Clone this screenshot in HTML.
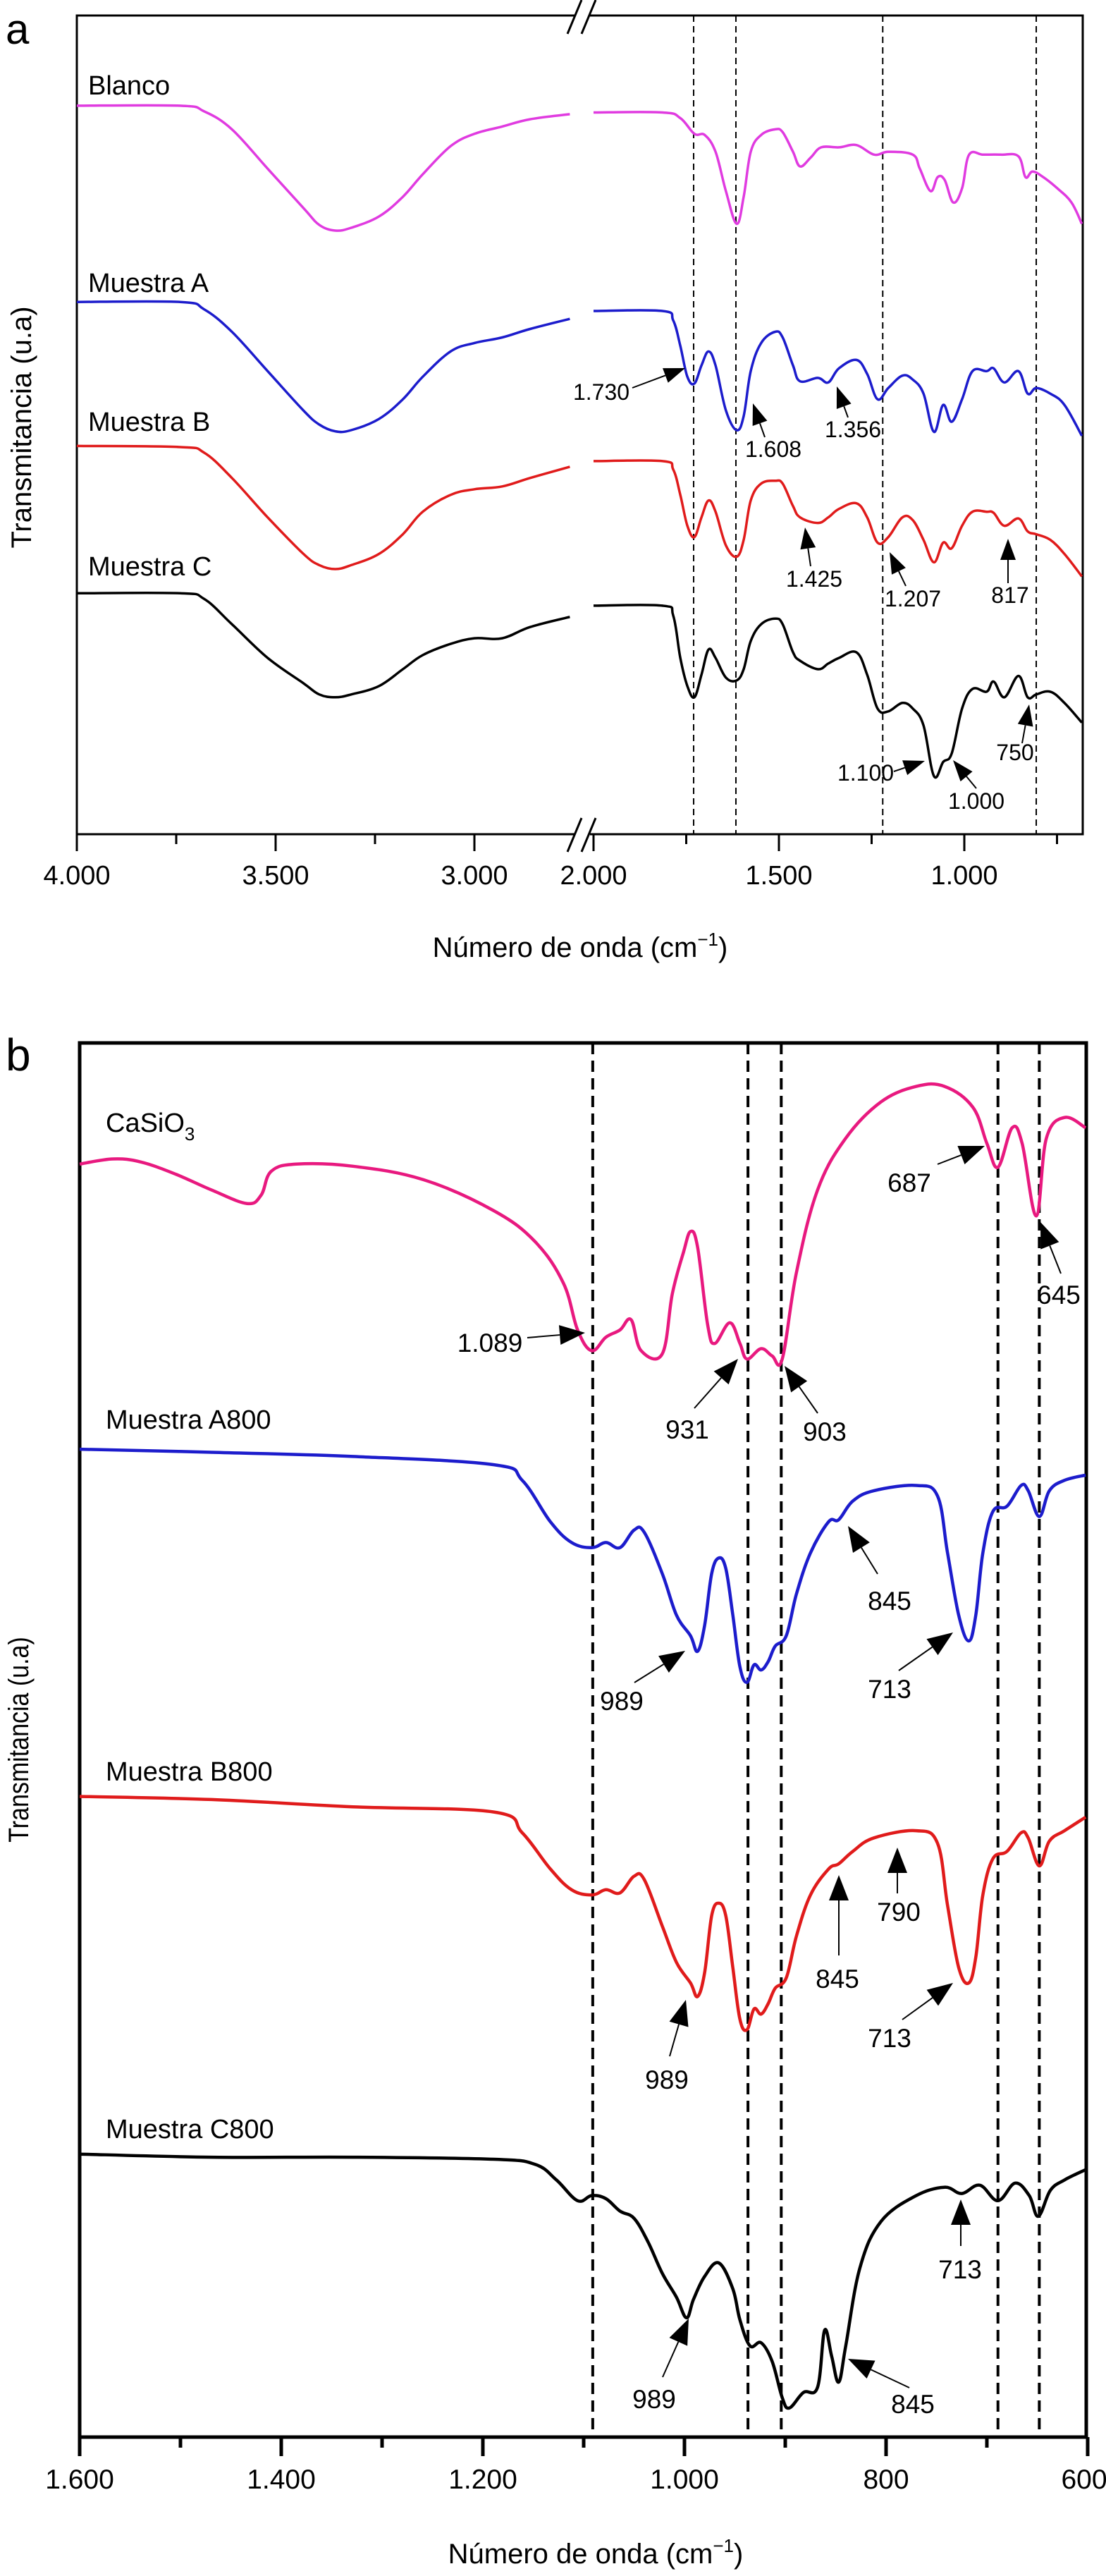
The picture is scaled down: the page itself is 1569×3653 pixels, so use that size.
<!DOCTYPE html>
<html><head><meta charset="utf-8"><style>
html,body{margin:0;padding:0;background:#fff;}
svg{display:block;font-family:"Liberation Sans",Arial,sans-serif;}
</style></head><body>
<svg id="fig" width="1569" height="3653" viewBox="0 0 1569 3653" xmlns="http://www.w3.org/2000/svg">
<rect width="1569" height="3653" fill="#fff"/>
<g id="pa"></g>
<g id="pb"></g>
</svg>
<script>
// ---------- Panel a data ----------
const aLeftWn = [4000,3740,3680,3610,3520,3430,3390,3350,3310,3240,3180,3130,3060,3000,2930,2860,2760];
const aBlancoL = [129.6,129.6,128.6,125.4,118.4,111.4,108.4,107.4,107.9,109.9,113.4,117.4,122.4,124.6,125.9,127.2,128.1];
const aMuestraAL = [94.7,94.7,93.4,89.4,82.4,75.4,72.9,71.7,71.9,73.9,77.4,81.4,85.9,87.4,88.4,89.9,91.7];
const aMuestraBL = [69.1,68.9,67.9,63.4,56.4,49.9,47.9,47.2,47.9,49.9,53.4,57.4,60.4,61.4,61.9,63.4,65.4];
const aMuestraCL = [42.9,42.9,41.9,37.4,31.4,26.9,24.9,24.4,24.9,26.4,29.4,31.9,33.9,34.9,34.9,36.9,38.7];
const aBlancoRWn = [2000,1814,1766,1728,1700,1671,1643,1614,1595,1576,1548,1510,1490,1462,1443,1414,1386,1338,1291,1243,1205,1139,1120,1091,1072,1053,1030,1006,987,949,901,854,835,816,787,749,711,683];
const aBlancoR = [128.4,128.4,127.4,124.6,124.4,121.4,114.4,108.6,113.4,121.4,124.4,125.4,124.9,121.4,118.8,120.4,122.2,122.2,122.6,120.9,121.4,120.9,118.4,114.4,116.9,116.4,112.4,114.9,120.9,120.9,120.9,120.6,116.9,117.9,116.9,114.9,112.4,108.6];
const aSampleRWn = [2000,1814,1785,1766,1747,1728,1709,1690,1671,1643,1614,1595,1576,1548,1510,1490,1462,1443,1395,1367,1338,1291,1262,1234,1205,1167,1139,1110,1082,1057,1034,1006,978,940,921,892,854,829,806,768,730,683];
const aMuestraAR = [93.1,93.1,91.4,86.9,81.4,80.2,83.4,85.9,83.4,75.4,71.9,74.4,82.4,87.4,89.4,88.4,83.4,80.6,81.2,80.4,82.9,84.4,81.9,77.4,79.4,81.6,80.9,78.4,71.6,76.4,73.4,77.4,82.4,82.4,82.9,80.4,82.4,78.4,79.4,78.4,76.4,70.9];
const aMuestraBR = [66.4,66.4,64.9,60.4,54.9,52.9,56.4,59.4,57.4,51.4,49.4,52.4,59.4,62.4,62.9,62.4,58.4,56.4,55.4,56.4,57.9,58.9,56.4,51.9,52.9,56.4,55.9,52.4,48.4,51.9,50.9,54.9,57.4,57.4,57.2,54.9,56.2,53.9,53.4,52.4,49.9,45.9];
const aMuestraCR = [40.7,40.7,38.9,31.4,26.4,24.4,28.4,32.9,31.4,27.9,27.4,29.4,34.4,37.4,38.4,37.4,32.4,30.9,29.4,30.4,31.4,32.4,28.4,22.4,21.9,23.4,22.4,19.4,10.4,12.9,14.4,22.4,25.9,25.4,27.2,24.4,28.2,24.4,24.9,25.4,23.4,19.9];
const aTickVals = [4000,3500,3000,2000,1500,1000];
const aTickLabels = ["4.000","3.500","3.000","2.000","1.500","1.000"];
const aMinorVals = [3750,3250,1750,1250,750];
const aDashed = [1730,1616,1220,806];

// ---------- Panel b data ----------
const bCaWn = [1600,1567,1539,1504,1469,1434,1420,1410,1385,1329,1259,1189,1148,1120,1106,1092,1078,1064,1053,1043,1022,1012,1001,994,987,977,970,955,945,938,924,913,903,889,868,840,805,770,742,714,700,689,675,665,651,641,623,602];
const bCaSiO3 = [122.8,123.3,123,121.8,120.3,119,119.8,122.1,122.8,122.6,121.3,118.3,115.3,111.3,106.8,104.8,106.1,106.8,107.8,104.8,104.5,110.3,114.3,116.3,114.8,107.3,105.5,107.5,105.5,104,105,104.3,104,112.3,120.3,125.3,128.8,130.3,130.3,128.3,124.8,122.5,126.3,124.8,117.8,125.3,127.3,126.3];
const bABWn = [1600,1469,1329,1189,1161,1133,1112,1092,1078,1064,1050,1040,1022,1008,994,987,980,973,966,959,952,945,938,931,924,917,910,899,889,875,857,847,833,812,770,749,739,728,718,711,704,694,680,666,659,648,638,623,602];
const bA800 = [95.3,95,94.6,93.8,92.3,88.3,86.3,85.8,86.3,85.8,87.5,87.3,83.3,79.3,77.3,75.8,78.3,83.3,84.8,83.8,79.3,74.3,72.8,74.5,74,74.8,76.3,77.3,81.3,85.3,88.3,88.5,90.3,91.3,91.8,90.8,85.3,79.3,76.8,79.3,85.3,89.3,89.8,91.8,91.3,88.8,91.3,92.3,92.8];
const bB800 = [61.8,61.5,60.8,60.3,58.3,54.8,52.8,52.3,52.8,52.5,54.1,53.8,49.3,45.8,43.8,42.5,44.8,50.3,51.5,50.3,45.3,40.3,39.3,41.3,40.8,41.8,43.3,44.3,48.3,52.3,54.8,55.3,56.5,57.8,58.5,57.3,51.3,45.3,43.8,46.3,52.3,55.8,56.5,58.3,57.8,55.1,57.5,58.5,59.8];
const bCWn = [1600,1469,1329,1189,1148,1127,1106,1092,1078,1064,1050,1036,1022,1008,998,991,980,966,952,945,935,924,913,903,896,882,868,861,854,847,840,826,805,770,742,725,707,689,672,658,649,637,623,602];
const bC800 = [27.3,27,27,26.8,26.3,24.8,22.8,23.3,23,21.8,21.1,18.8,15.8,13.5,11.5,13.3,15.5,16.8,14.3,11.3,8.8,9.1,7.3,3.8,2.8,4.3,4.8,10.3,7.8,5.3,8.8,16.3,20.8,23.3,24.1,23.5,24.3,22.8,24.5,23.3,21.3,23.8,24.8,25.8];
const bTickVals = [1600,1400,1200,1000,800,600];
const bTickLabels = ["1.600","1.400","1.200","1.000","800","600"];
const bMinorVals = [1500,1300,1100,900,700];
const bDashed = [1091,937,904,689,648];

const NS = "http://www.w3.org/2000/svg";
function mk(parent, tag, attrs, text){
  const e = document.createElementNS(NS, tag);
  for (const k in attrs) e.setAttribute(k, attrs[k]);
  if (text !== undefined) e.textContent = text;
  parent.appendChild(e);
  return e;
}
// axis functions
function xA(w){ return w >= 2100 ? 109 + (4000 - w) * 0.564 : 842 + (2000 - w) * 0.526; }
function yA(t){ return (1484 - t * 10) / 1.254; }
function xB(w){ return 113 + (1600 - w) * 1.43; }
function yB(t){ return 3456 - t * 14.7; }

// smooth path (Catmull-Rom, mild tension)
function pathD(wn, vals, fx, fy){
  const p = wn.map((w,i)=>[fx(w), fy(vals[i])]);
  let d = "M"+p[0][0].toFixed(1)+","+p[0][1].toFixed(1);
  const k = 0.18;
  for (let i=0;i<p.length-1;i++){
    const p0=p[Math.max(0,i-1)], p1=p[i], p2=p[i+1], p3=p[Math.min(p.length-1,i+2)];
    const c1=[p1[0]+(p2[0]-p0[0])*k, p1[1]+(p2[1]-p0[1])*k];
    const c2=[p2[0]-(p3[0]-p1[0])*k, p2[1]-(p3[1]-p1[1])*k];
    d += " C"+c1[0].toFixed(1)+","+c1[1].toFixed(1)+" "+c2[0].toFixed(1)+","+c2[1].toFixed(1)+" "+p2[0].toFixed(1)+","+p2[1].toFixed(1);
  }
  return d;
}
function arrow(g, x1,y1,x2,y2, hl, hw, sw, name){
  const a = mk(g,"g",{});
  
  
  const dx=x2-x1, dy=y2-y1, L=Math.hypot(dx,dy), ux=dx/L, uy=dy/L;
  const bx=x2-ux*hl, by=y2-uy*hl;
  mk(a,"line",{x1:x1,y1:y1,x2:bx,y2:by,stroke:"#000","stroke-width":sw});
  mk(a,"polygon",{points:`${x2},${y2} ${bx-uy*hw/2},${by+ux*hw/2} ${bx+uy*hw/2},${by-ux*hw/2}`,fill:"#000"});
}

// ================= Panel a =================
const pa = document.getElementById("pa");
const L=109, R=1536, T=22, B=1183;
mk(pa,"text",{x:8,y:62,"font-size":60},"a");
aDashed.forEach(w=>{
  const l = mk(pa,"line",{x1:xA(w),x2:xA(w),y1:T,y2:B,stroke:"#000","stroke-width":2,"stroke-dasharray":"9,6"});
  
  
});
const fa = mk(pa,"rect",{x:L,y:T,width:R-L,height:B-T,fill:"none",stroke:"#000","stroke-width":3});


mk(pa,"rect",{x:815,y:T-8,width:22,height:16,fill:"#fff"});
mk(pa,"rect",{x:815,y:B-8,width:22,height:16,fill:"#fff"});
[[805,48,825,0],[825,48,845,0],[805,1208,825,1160],[825,1208,845,1160]].forEach(s=>{
  const l = mk(pa,"line",{x1:s[0],y1:s[1],x2:s[2],y2:s[3],stroke:"#000","stroke-width":3});
  
  
});
aTickVals.forEach((v,i)=>{
  mk(pa,"line",{x1:xA(v),x2:xA(v),y1:B,y2:B+24,stroke:"#000","stroke-width":3});
  const t = mk(pa,"text",{x:xA(v),y:1254,"font-size":38,"text-anchor":"middle"},aTickLabels[i]);
  
  
});
aMinorVals.forEach(v=>mk(pa,"line",{x1:xA(v),x2:xA(v),y1:B,y2:B+14,stroke:"#000","stroke-width":3}));
const aSeries = [
  ["blanco",aBlancoL,aBlancoRWn,aBlancoR,"#e03be0","Blanco",120],
  ["muestra-a",aMuestraAL,aSampleRWn,aMuestraAR,"#1c1ccc","Muestra A",400],
  ["muestra-b",aMuestraBL,aSampleRWn,aMuestraBR,"#e01b1b","Muestra B",597],
  ["muestra-c",aMuestraCL,aSampleRWn,aMuestraCR,"#000","Muestra C",802]
];
aSeries.forEach(s=>{
  const p1 = mk(pa,"path",{d:pathD(aLeftWn,s[1],xA,yA),fill:"none",stroke:s[4],"stroke-width":3.5,"stroke-linejoin":"round"});
  
  
  const p2 = mk(pa,"path",{d:pathD(s[2],s[3],xA,yA),fill:"none",stroke:s[4],"stroke-width":3.5,"stroke-linejoin":"round"});
  
  
  const t = mk(pa,"text",{x:125,y:s[6]+14,"font-size":38},s[5]);
  
  
});
[["1.730",853,567,897,550,972,522],["1.608",1097,648,1085,620,1068,572],["1.356",1210,620,1203,592,1187,548],
 ["1.425",1155,832,1150,803,1142,748],["1.207",1295,860,1285,831,1262,783],["817",1433,855,1430,827,1430,764],
 ["1.100",1228,1107,1268,1094,1312,1079],["1.000",1385,1147,1385,1118,1352,1078],["750",1440,1078,1450,1054,1460,999]
].forEach(a=>{
  const t = mk(pa,"text",{x:a[1],y:a[2],"font-size":32,"text-anchor":"middle"},a[0]);
  
  
  arrow(pa,a[3],a[4],a[5],a[6],30,22,2,'peak-arrow');
});
const ya = mk(pa,"text",{x:0,y:0,"font-size":40,"text-anchor":"middle",transform:"translate(44,606) rotate(-90)"},"Transmitancia (u.a)");


const xa = mk(pa,"text",{x:823,y:1357,"font-size":40,"text-anchor":"middle"},"");
xa.innerHTML = 'Número de onda (cm<tspan font-size="26" dy="-16">−1</tspan><tspan dy="16">)</tspan>';



// ================= Panel b =================
const pb = document.getElementById("pb");
const bL=113, bR=1541, bT=1479, bB=3456;
mk(pb,"text",{x:8,y:1518,"font-size":64},"b");
bDashed.forEach(w=>{
  const l = mk(pb,"line",{x1:xB(w),x2:xB(w),y1:bT,y2:bB,stroke:"#000","stroke-width":4,"stroke-dasharray":"16,9"});
  
  
});
const fb = mk(pb,"rect",{x:bL,y:bT,width:bR-bL,height:bB-bT,fill:"none",stroke:"#000","stroke-width":5});


bTickVals.forEach((v,i)=>{
  mk(pb,"line",{x1:xB(v),x2:xB(v),y1:bB,y2:bB+27,stroke:"#000","stroke-width":5});
  const lx = Math.min(xB(v), 1538);
  const t = mk(pb,"text",{x:lx,y:3529,"font-size":39,"text-anchor":"middle"},bTickLabels[i]);
  
  
});
bMinorVals.forEach(v=>mk(pb,"line",{x1:xB(v),x2:xB(v),y1:bB,y2:bB+15,stroke:"#000","stroke-width":5}));
const bSeries = [
  ["casio3",bCaWn,bCaSiO3,"#e8197f"],
  ["muestra-a800",bABWn,bA800,"#1c1ccc"],
  ["muestra-b800",bABWn,bB800,"#e01b1b"],
  ["muestra-c800",bCWn,bC800,"#000"]
];
bSeries.forEach(s=>{
  const p = mk(pb,"path",{d:pathD(s[1],s[2],xB,yB),fill:"none",stroke:s[3],"stroke-width":4.5,"stroke-linejoin":"round"});
  
  
});
const cl = mk(pb,"text",{x:150,y:1605,"font-size":38},"");
cl.innerHTML = 'CaSiO<tspan font-size="26" dy="12">3</tspan>';


[["Muestra A800",2026,"muestra-a800"],["Muestra B800",2525,"muestra-b800"],["Muestra C800",3032,"muestra-c800"]].forEach(s=>{
  const t = mk(pb,"text",{x:150,y:s[1],"font-size":38},s[0]);
  
  
});
[["1.089",695,1917,748,1897,830,1890],["931",975,2040,985,1997,1047,1927],["903",1170,2043,1160,2004,1113,1937],
 ["687",1290,1690,1330,1651,1397,1625],["645",1502,1849,1505,1806,1476,1733],
 ["989",882,2425,900,2386,972,2341],["845",1262,2283,1245,2232,1203,2164],["713",1262,2408,1275,2369,1352,2315],
 ["989",946,2962,950,2916,973,2836],["845",1188,2819,1190,2773,1190,2659],["790",1275,2724,1273,2685,1273,2620],["713",1262,2903,1280,2864,1352,2812],
 ["989",928,3415,940,3371,977,3288],["845",1295,3422,1290,3386,1203,3345],["713",1362,3231,1363,3185,1363,3119]
].forEach(a=>{
  const t = mk(pb,"text",{x:a[1],y:a[2],"font-size":37,"text-anchor":"middle"},a[0]);
  
  
  arrow(pb,a[3],a[4],a[5],a[6],36,28,2,'peak-arrow');
});
const yb = mk(pb,"text",{x:0,y:0,"font-size":40,"text-anchor":"middle",transform:"translate(40,2467) rotate(-90) scale(0.85,1)"},"Transmitancia (u.a)");


const xb = mk(pb,"text",{x:845,y:3635,"font-size":40,"text-anchor":"middle"},"");
xb.innerHTML = 'Número de onda (cm<tspan font-size="26" dy="-16">−1</tspan><tspan dy="16">)</tspan>';


</script>
</body></html>
